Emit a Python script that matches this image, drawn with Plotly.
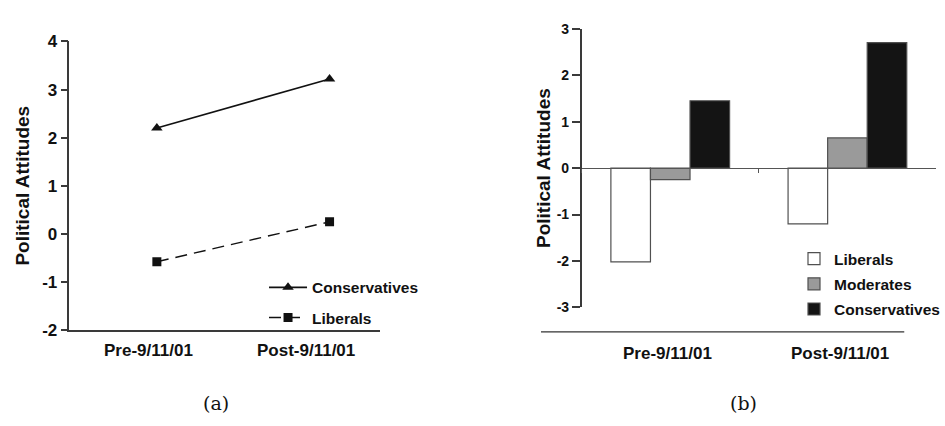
import plotly.graph_objects as go

# Survey periods and mean political-attitude scores
periods = ["Pre-9/11/01", "Post-9/11/01"]

# Panel (a): line chart
line_conservatives = [2.2, 3.22]
line_liberals = [-0.58, 0.25]
ticks_a = [-2, -1, 0, 1, 2, 3, 4]
tick_text_a = ["-2", "-1", "0", "1", "2", "3", "4"]

# Panel (b): grouped bars
bar_liberals = [-2.02, -1.2]
bar_moderates = [-0.25, 0.65]
bar_conservatives = [1.45, 2.7]
ticks_b = [-3, -2, -1, 0, 1, 2, 3]
tick_text_b = ["-3", "-2", "-1", "0", "1", "2", "3"]

W, H = 945, 426
SANS = "Liberation Sans, Arial, sans-serif"
AXIS = "#3a3a3a"


def px(x):
    return x / W


def py(y):
    return 1 - y / H


fig = go.Figure()

# ---- panel (a) ----
fig.add_trace(go.Scatter(
    x=periods, y=line_conservatives, name="Conservatives",
    mode="lines+markers", xaxis="x", yaxis="y",
    line=dict(color="#111111", width=1.6),
    marker=dict(symbol="triangle-up", size=10, color="#111111"),
    legend="legend", legendgroup="c",
))
fig.add_trace(go.Scatter(
    x=periods, y=line_liberals, name="Liberals",
    mode="lines+markers", xaxis="x", yaxis="y",
    line=dict(color="#111111", width=1.4, dash="12px,7px"),
    marker=dict(symbol="square", size=9, color="#111111"),
    legend="legend", legendgroup="l",
))

# ---- panel (b) ----
bar_specs = [
    ("Liberals", bar_liberals, "#ffffff"),
    ("Moderates", bar_moderates, "#9a9a9a"),
    ("Conservatives", bar_conservatives, "#141414"),
]
for name, vals, color in bar_specs:
    fig.add_trace(go.Bar(
        x=periods, y=vals, name=name, xaxis="x2", yaxis="y2",
        marker=dict(color=color, line=dict(color="#505050", width=1.2)),
        legend="legend2", legendgroup="b" + name,
    ))

title_font = dict(family=SANS, size=19, color="#111111", weight="bold")

fig.update_layout(
    width=W, height=H,
    margin=dict(l=0, r=0, t=0, b=0),
    paper_bgcolor="white", plot_bgcolor="white",
    barmode="group", bargap=0.33, bargroupgap=0,
    font=dict(family=SANS, color="#111111"),
    xaxis=dict(
        domain=[px(70), px(383)], anchor="y", type="category",
        range=[-0.506, 1.293], showline=True, linecolor=AXIS, linewidth=1.5,
        showgrid=False, zeroline=False, ticks="", showticklabels=False,
    ),
    yaxis=dict(
        domain=[py(336), py(34)], anchor="x", range=[-2, 4],
        tickvals=ticks_a, ticktext=tick_text_a,
        showline=True, linecolor=AXIS, linewidth=1.5,
        ticks="outside", ticklen=7, tickcolor=AXIS, tickwidth=1.5,
        showgrid=False, zeroline=False,
        tickfont=dict(family=SANS, size=17, color="#111111", weight="bold"),
        title=dict(text="Political Attitudes", standoff=8, font=title_font),
    ),
    xaxis2=dict(
        domain=[px(586), px(943)], anchor="free",
        position=py(166.5), type="category",
        showline=True, linecolor="#555555", linewidth=1.3,
        ticks="outside", tickson="boundaries", ticklen=4, tickcolor="#555555",
        showgrid=False, zeroline=False, showticklabels=False,
    ),
    yaxis2=dict(
        domain=[py(312.3), py(20.7)], anchor="x2", range=[-3, 3],
        tickvals=ticks_b, ticktext=tick_text_b,
        showline=True, linecolor=AXIS, linewidth=1.5,
        ticks="outside", ticklen=8, tickcolor=AXIS, tickwidth=1.5,
        showgrid=False, zeroline=False,
        tickfont=dict(family=SANS, size=14, color="#111111", weight="bold"),
        title=dict(text="Political Attitudes", standoff=1, font=title_font),
    ),
    legend=dict(
        x=px(266), y=py(274), xanchor="left", yanchor="top",
        bgcolor="rgba(0,0,0,0)", traceorder="grouped", tracegroupgap=7,
        font=dict(family=SANS, size=15.5, color="#111111", weight="bold"),
        itemwidth=38,
    ),
    legend2=dict(
        x=px(800), y=py(244), xanchor="left", yanchor="top",
        bgcolor="rgba(0,0,0,0)", traceorder="grouped", tracegroupgap=2,
        font=dict(family=SANS, size=15.5, color="#111111", weight="bold"),
        itemwidth=30,
    ),
    showlegend=True,
)

# Category labels under each panel
label_font = dict(family=SANS, size=17, color="#111111", weight="bold")
for lab, xpix in zip(periods, [150, 308]):
    fig.add_annotation(text=lab, x=px(xpix), y=py(357), xref="paper", yref="paper",
                       showarrow=False, font=label_font, xanchor="center", yanchor="middle")
for lab, xshift in zip(periods, [-3, -7]):
    fig.add_annotation(text=lab, x=lab, xref="x2", y=py(361), yref="paper",
                       xshift=xshift, showarrow=False, font=label_font,
                       xanchor="center", yanchor="middle")

# Rule separating the bar panel from its category labels
fig.add_shape(type="line", xref="paper", yref="paper",
              x0=px(545), x1=px(911), y0=py(338), y1=py(338),
              line=dict(color="#333333", width=1.3))

# Panel captions
cap_font = dict(family="DejaVu Serif, Liberation Serif, serif", size=19, color="#111111")
fig.add_annotation(text="(a)", x=px(218), y=py(412), xref="paper", yref="paper",
                   showarrow=False, font=cap_font, xanchor="center", yanchor="middle")
fig.add_annotation(text="(b)", x=px(749), y=py(412), xref="paper", yref="paper",
                   showarrow=False, font=cap_font, xanchor="center", yanchor="middle")

fig.write_html("out.html")
